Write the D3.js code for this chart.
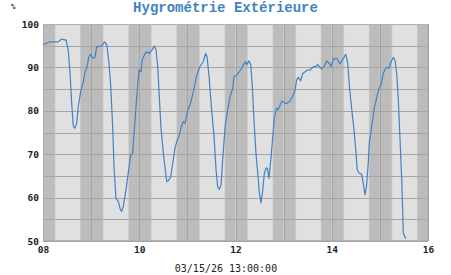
<!DOCTYPE html>
<html>
<head>
<meta charset="utf-8">
<script src="https://cdn.jsdelivr.net/npm/d3@7"></script>
<style>
  body { margin: 0; background: #fff; }
  svg { display: block; }
</style>
</head>
<body>
<script>
// hours since 03/08 00:00
const hours = [0, 3.5, 7.6, 9.3, 11.5, 12.6, 13.5, 14.3, 15.1, 15.8, 16.8, 17.6, 18.8, 20.1, 21, 21.8,
  22.9, 23.8, 24.8, 25.9, 26.8, 29.3, 30.6, 31.8, 32.9, 33.8, 34.8, 35.4, 36.4, 37.6, 38.4, 39.2,
  40, 41.4, 42.5, 43.7, 44.7, 45.9, 47.1, 47.9, 48.9, 49.5, 50.9, 51.7, 52.9, 54.2, 55.5, 56.4,
  57.2, 58, 58.8, 60, 60.8, 61.7, 62.5, 63.7, 64.7, 65.8, 67, 68, 69.2, 70, 70.8, 72.2, 73.3, 75,
  76.7, 78.3, 79.9, 81.1, 81.8, 82.8, 84.1, 85.3, 86.3, 87.1, 87.9, 88.8, 89.6, 90.8, 92.1, 93.3,
  94.6, 95.3, 96.6, 97.9, 99.1, 100.2, 101.1, 101.6, 102.7, 103.6, 104.4, 105.2, 106.2, 107.1,
  107.9, 108.7, 109.6, 110.4, 111.2, 111.9, 112.7, 113.6, 114.6, 115.4, 116.5, 117.3, 118.2,
  119.3, 120.7, 121.8, 123.2, 124.5, 125.7, 126.5, 127.3, 128.5, 129.5, 130.7, 131.8, 133.2, 134,
  135.1, 136.1, 137, 137.8, 139, 140.3, 141.5, 142.8, 143.6, 144.8, 146.5, 148.1, 149.8, 151, 152,
  152.8, 154, 155.1, 156.1, 156.7, 157.7, 158.9, 159.7, 160.6, 161.4, 162.2, 162.7, 163.9, 165.2,
  166.4, 167.6, 168.6, 169.7, 170.6, 171.7, 172.5, 173.6, 174.7, 175.5, 176.4, 177.2, 178, 178.9,
  179.7, 180.9];
const humidity = [95.2, 95.9, 95.9, 96.5, 96.3, 94, 88.6, 81.8, 76.5, 76, 77.1, 81, 84.4, 86.7, 89, 89.8,
  92.5, 93, 92.1, 92.3, 94.8, 94.9, 95.9, 95.2, 91, 85.6, 75.6, 67.1, 59.8, 59.1, 57.5, 56.8,
  57.9, 61.8, 65.6, 69.8, 70.2, 77.9, 85.2, 89.4, 89, 91.7, 93.2, 93.6, 93.2, 93.9, 94.9, 94,
  90.2, 83.3, 76.3, 70.2, 67.1, 63.7, 63.9, 64.8, 67.9, 71.4, 73.3, 74.4, 76.7, 77.5, 77.1, 80.2, 81.3, 84.4,
  88.2, 90.2, 91.3, 93.2, 92.5, 87.9, 80.2, 74, 66.4, 62.5, 61.9, 62.9, 68.7, 76.3, 80.2, 83.3,
  85.2, 87.9, 88.2, 89, 89.8, 90.9, 91.3, 90.6, 91.5, 90.6, 85.6, 77.9, 70.2, 65.6,
  61, 58.8, 61.8, 65.6, 66.8, 66.8, 64.4, 68.7, 74, 78.6, 80.6, 80.2, 81.3,
  82.3, 81.7, 81.7, 82.3, 83.3, 84.8, 87.1, 87.7, 86.9, 88.6, 89, 89.4, 89.4, 89.8,
  90.2, 90.2, 90.7, 90.2, 89.6, 90.3, 91.5, 90.9, 90.2, 91.9, 92.1, 90.8, 92.1, 93, 90.9,
  85.6, 80.2, 75.6, 70.2, 66.4, 65.6, 65.4, 63.3, 60.6, 62.9, 67.9, 72.5, 76.3, 80.6,
  82.9, 85.2, 85.9, 88.6, 89.6, 90, 89.8, 91.3, 92.3, 91.7, 88.6, 82.5, 74, 64.1,
  51.8, 50.5];

const dayLabels = ["08", "10", "12", "14", "16"];
const yTicks = [50, 60, 70, 80, 90, 100];
const sunrise = 6.2, sunset = 18.45; // hours of the day
const titleText = "Hygrométrie Extérieure";
const footText = "03/15/26 13:00:00";

const W = 451, H = 275;
const m = { top: 24, right: 23, bottom: 34, left: 43 };
const start = new Date(2026, 2, 8);
const toDate = h => new Date(start.getTime() + h * 3600e3);

const x = d3.scaleTime().domain([start, toDate(192)]).range([m.left, W - m.right]);
const y = d3.scaleLinear().domain([50, 100]).range([H - m.bottom, m.top]);

const svg = d3.select("body").append("svg").attr("width", W).attr("height", H);

// day / night bands
const bands = [];
for (let d = 0; d < 8; d++) {
  bands.push({ a: d * 24, b: (d + 1) * 24, c: "#bcbcbc" });
  bands.push({ a: d * 24 + sunrise - 0.35, b: d * 24 + sunset + 0.35, c: "#cfcfcf" });
  bands.push({ a: d * 24 + sunrise, b: d * 24 + sunset, c: "#e0e0e0" });
}
svg.append("g").selectAll("rect").data(bands).join("rect")
  .attr("x", d => x(toDate(d.a)))
  .attr("width", d => x(toDate(d.b)) - x(toDate(d.a)))
  .attr("y", m.top).attr("height", H - m.bottom - m.top)
  .attr("fill", d => d.c);

// grid
const grid = svg.append("g").attr("stroke", "#a4a4a4").attr("stroke-width", 1);
grid.selectAll(".h").data(d3.range(50, 101, 5)).join("line")
  .attr("x1", m.left).attr("x2", W - m.right)
  .attr("y1", d => Math.round(y(d)) + 0.5).attr("y2", d => Math.round(y(d)) + 0.5);
grid.selectAll(".v").data(d3.range(0, 9)).join("line")
  .attr("x1", d => Math.round(x(toDate(d * 24))) + 0.5).attr("x2", d => Math.round(x(toDate(d * 24))) + 0.5)
  .attr("y1", m.top).attr("y2", H - m.bottom);

svg.append("rect")
  .attr("x", m.left + 0.5).attr("y", m.top + 0.5)
  .attr("width", W - m.right - m.left - 1).attr("height", H - m.bottom - m.top - 1)
  .attr("fill", "none").attr("stroke", "#b0b0b0");

// line
const pts = hours.map((h, i) => [toDate(h), humidity[i]]);
svg.append("path").datum(pts)
  .attr("fill", "none").attr("stroke", "#3f83c3").attr("stroke-width", 1.2)
  .attr("stroke-linejoin", "round")
  .attr("d", d3.line().x(d => x(d[0])).y(d => y(d[1])));

// axes (labels only)
const font = "'DejaVu Sans Mono', monospace";
const yAxis = svg.append("g").attr("transform", `translate(${m.left},0)`)
  .call(d3.axisLeft(y).tickValues(yTicks).tickSize(0).tickPadding(4));
const xAxis = svg.append("g").attr("transform", `translate(0,${H - m.bottom})`)
  .call(d3.axisBottom(x).tickValues(dayLabels.map((l, i) => toDate(i * 48)))
    .tickFormat((d, i) => dayLabels[i]).tickSize(0).tickPadding(5));
[yAxis, xAxis].forEach(g => {
  g.select(".domain").remove();
  g.selectAll("text").attr("font-family", font).attr("font-size", 9.5)
    .attr("font-weight", "bold").attr("fill", "#222");
});

svg.append("text").attr("x", W / 2).attr("y", 12).attr("text-anchor", "middle")
  .attr("font-family", "'Liberation Mono', monospace").attr("font-weight", "bold")
  .attr("font-size", 14).attr("fill", "#3f83c3").text(titleText);

svg.append("text").attr("x", 11).attr("y", 9)
  .attr("font-family", font).attr("font-size", 7.5).attr("font-weight", "bold")
  .attr("fill", "#333").text("%");

svg.append("text").attr("x", 226).attr("y", 272).attr("text-anchor", "middle")
  .attr("font-family", font).attr("font-size", 10).attr("fill", "#222")
  .text(footText);
</script>
</body>
</html>
